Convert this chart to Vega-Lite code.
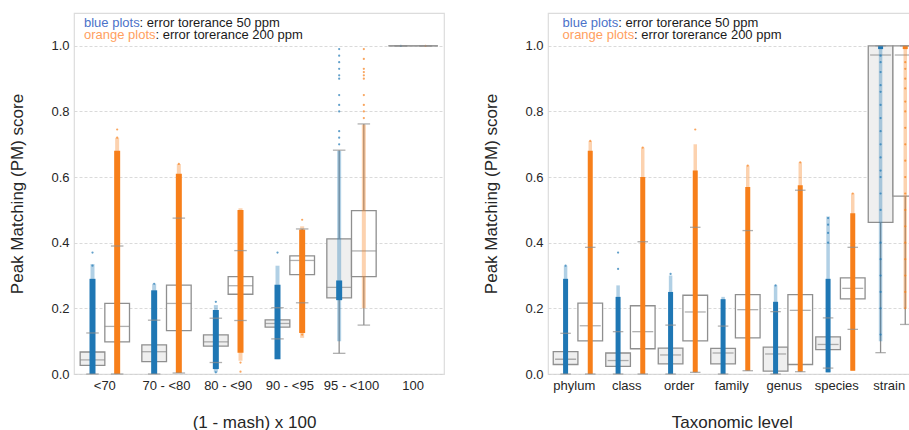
{
"$schema": "https://vega.github.io/schema/vega-lite/v6.json",
"padding": {"left": 8, "top": 12, "right": 0, "bottom": 0},
"background": "white",
"spacing": 37,
"config": {
  "font": "Liberation Sans",
  "view": {"stroke": "#dcdcdc", "strokeWidth": 1.2},
  "axis": {"labelFont": "Liberation Sans", "titleFont": "Liberation Sans", "labelFontSize": 13, "titleFontSize": 17, "titleFontWeight": "normal", "labelColor": "#262626", "titleColor": "#262626", "ticks": false, "domain": false}
},
"datasets": {
  "L": [
    {"cat":"<70","tol":"50","lo":0,"q1":0.026,"med":0.043,"q3":0.067,"hi":0.125,"dlo":0,"dhi":0.29,"slo":0,"shi":0.335},
    {"cat":"<70","tol":"200","lo":0,"q1":0.098,"med":0.145,"q3":0.215,"hi":0.39,"dlo":0,"dhi":0.68,"slo":0,"shi":0.72},
    {"cat":"70 - <80","tol":"50","lo":0,"q1":0.038,"med":0.068,"q3":0.089,"hi":0.164,"dlo":0,"dhi":0.255,"slo":0,"shi":0.275},
    {"cat":"70 - <80","tol":"200","lo":0.003,"q1":0.132,"med":0.215,"q3":0.271,"hi":0.475,"dlo":0.003,"dhi":0.61,"slo":0.003,"shi":0.64},
    {"cat":"80 - <90","tol":"50","lo":0.035,"q1":0.085,"med":0.098,"q3":0.119,"hi":0.17,"dlo":0.015,"dhi":0.195,"slo":0.005,"shi":0.21},
    {"cat":"80 - <90","tol":"200","lo":0.163,"q1":0.243,"med":0.269,"q3":0.297,"hi":0.376,"dlo":0.065,"dhi":0.5,"slo":0.04,"shi":0.505},
    {"cat":"90 - <95","tol":"50","lo":0.107,"q1":0.143,"med":0.154,"q3":0.165,"hi":0.202,"dlo":0.045,"dhi":0.272,"slo":0.045,"shi":0.33},
    {"cat":"90 - <95","tol":"200","lo":0.217,"q1":0.303,"med":0.346,"q3":0.36,"hi":0.442,"dlo":0.125,"dhi":0.44,"slo":0.11,"shi":0.45},
    {"cat":"95 - <100","tol":"50","lo":0.063,"q1":0.232,"med":0.264,"q3":0.412,"hi":0.682,"dlo":0.225,"dhi":0.285,"slo":0.1,"shi":0.68},
    {"cat":"95 - <100","tol":"200","lo":0.149,"q1":0.297,"med":0.375,"q3":0.498,"hi":0.762,"slo":0.2,"shi":0.76},
    {"cat":"100","tol":"50","lo":1,"q1":1,"med":1,"q3":1,"hi":1},
    {"cat":"100","tol":"200","lo":1,"q1":1,"med":1,"q3":1,"hi":1}
  ],
  "LP": [
    {"cat":"<70","tol":"50","v":0.33},{"cat":"<70","tol":"50","v":0.37},
    {"cat":"<70","tol":"200","v":0.72},{"cat":"<70","tol":"200","v":0.745},
    {"cat":"70 - <80","tol":"50","v":0.275},{"cat":"70 - <80","tol":"200","v":0.64},
    {"cat":"80 - <90","tol":"50","v":0.22},{"cat":"80 - <90","tol":"50","v":0.005},
    {"cat":"80 - <90","tol":"200","v":0.035},{"cat":"80 - <90","tol":"200","v":0.007},
    {"cat":"90 - <95","tol":"50","v":0.37},
    {"cat":"90 - <95","tol":"200","v":0.47},{"cat":"90 - <95","tol":"200","v":0.12},
    {"cat":"95 - <100","tol":"50","v":0.70},{"cat":"95 - <100","tol":"50","v":0.72},{"cat":"95 - <100","tol":"50","v":0.74},
    {"cat":"95 - <100","tol":"50","v":0.80},{"cat":"95 - <100","tol":"50","v":0.82},{"cat":"95 - <100","tol":"50","v":0.85},
    {"cat":"95 - <100","tol":"50","v":0.90},{"cat":"95 - <100","tol":"50","v":0.91},{"cat":"95 - <100","tol":"50","v":0.93},
    {"cat":"95 - <100","tol":"50","v":0.95},{"cat":"95 - <100","tol":"50","v":0.97},{"cat":"95 - <100","tol":"50","v":0.99},
    {"cat":"95 - <100","tol":"200","v":0.78},{"cat":"95 - <100","tol":"200","v":0.80},{"cat":"95 - <100","tol":"200","v":0.82},
    {"cat":"95 - <100","tol":"200","v":0.85},{"cat":"95 - <100","tol":"200","v":0.90},{"cat":"95 - <100","tol":"200","v":0.91},
    {"cat":"95 - <100","tol":"200","v":0.92},{"cat":"95 - <100","tol":"200","v":0.93},{"cat":"95 - <100","tol":"200","v":0.96},
    {"cat":"95 - <100","tol":"200","v":0.99},
    {"cat":"100","tol":"50","v":1},{"cat":"100","tol":"200","v":1}
  ],
  "R": [
    {"cat":"phylum","tol":"50","lo":0,"q1":0.029,"med":0.045,"q3":0.068,"hi":0.124,"dlo":0,"dhi":0.29,"slo":0,"shi":0.33},
    {"cat":"phylum","tol":"200","lo":0,"q1":0.101,"med":0.147,"q3":0.216,"hi":0.386,"dlo":0,"dhi":0.68,"slo":0,"shi":0.71},
    {"cat":"class","tol":"50","lo":0,"q1":0.023,"med":0.041,"q3":0.064,"hi":0.129,"dlo":0,"dhi":0.235,"slo":0,"shi":0.27},
    {"cat":"class","tol":"200","lo":0,"q1":0.077,"med":0.129,"q3":0.208,"hi":0.403,"dlo":0,"dhi":0.6,"slo":0,"shi":0.69},
    {"cat":"order","tol":"50","lo":0,"q1":0.031,"med":0.058,"q3":0.079,"hi":0.149,"dlo":0,"dhi":0.25,"slo":0,"shi":0.3},
    {"cat":"order","tol":"200","lo":0.005,"q1":0.101,"med":0.189,"q3":0.24,"hi":0.447,"dlo":0.005,"dhi":0.62,"slo":0.005,"shi":0.7},
    {"cat":"family","tol":"50","lo":0,"q1":0.031,"med":0.064,"q3":0.078,"hi":0.146,"dlo":0,"dhi":0.228,"slo":0,"shi":0.235},
    {"cat":"family","tol":"200","lo":0.01,"q1":0.11,"med":0.196,"q3":0.242,"hi":0.437,"dlo":0.01,"dhi":0.57,"slo":0.01,"shi":0.635},
    {"cat":"genus","tol":"50","lo":0,"q1":0.009,"med":0.061,"q3":0.082,"hi":0.19,"dlo":0,"dhi":0.22,"slo":0,"shi":0.27},
    {"cat":"genus","tol":"200","lo":0.007,"q1":0.029,"med":0.194,"q3":0.242,"hi":0.56,"dlo":0.007,"dhi":0.575,"slo":0.007,"shi":0.645},
    {"cat":"species","tol":"50","lo":0.018,"q1":0.074,"med":0.09,"q3":0.113,"hi":0.171,"dlo":0.005,"dhi":0.29,"slo":0.005,"shi":0.48},
    {"cat":"species","tol":"200","lo":0.136,"q1":0.229,"med":0.261,"q3":0.293,"hi":0.386,"dlo":0.01,"dhi":0.49,"slo":0.01,"shi":0.55},
    {"cat":"strain","tol":"50","lo":0.065,"q1":0.462,"med":0.972,"q3":1,"hi":1,"dlo":0.99,"dhi":1,"slo":0.1,"shi":1},
    {"cat":"strain","tol":"200","lo":0.151,"q1":0.542,"med":0.972,"q3":1,"hi":1,"dlo":0.99,"dhi":1,"slo":0.2,"shi":1}
  ],
  "RP": [
    {"cat":"phylum","tol":"50","v":0.33},{"cat":"phylum","tol":"200","v":0.71},
    {"cat":"class","tol":"50","v":0.32},{"cat":"class","tol":"50","v":0.37},{"cat":"class","tol":"200","v":0.69},
    {"cat":"order","tol":"50","v":0.305},{"cat":"order","tol":"200","v":0.745},
    {"cat":"family","tol":"200","v":0.635},
    {"cat":"genus","tol":"50","v":0.27},{"cat":"genus","tol":"200","v":0.645},
    {"cat":"species","tol":"50","v":0.4},{"cat":"species","tol":"50","v":0.43},{"cat":"species","tol":"50","v":0.455},{"cat":"species","tol":"50","v":0.475},
    {"cat":"species","tol":"200","v":0.55},
    {"cat":"strain","tol":"50","v":0.12},{"cat":"strain","tol":"50","v":0.2},{"cat":"strain","tol":"50","v":0.25},{"cat":"strain","tol":"50","v":0.3},
    {"cat":"strain","tol":"50","v":0.35},{"cat":"strain","tol":"50","v":0.4},{"cat":"strain","tol":"50","v":0.5},{"cat":"strain","tol":"50","v":0.55},
    {"cat":"strain","tol":"50","v":0.6},{"cat":"strain","tol":"50","v":0.62},{"cat":"strain","tol":"50","v":0.66},{"cat":"strain","tol":"50","v":0.7},
    {"cat":"strain","tol":"50","v":0.74},{"cat":"strain","tol":"50","v":0.78},{"cat":"strain","tol":"50","v":0.82},{"cat":"strain","tol":"50","v":0.86},
    {"cat":"strain","tol":"50","v":0.88},{"cat":"strain","tol":"50","v":0.92},{"cat":"strain","tol":"50","v":0.95},{"cat":"strain","tol":"50","v":0.97},
    {"cat":"strain","tol":"200","v":0.2},{"cat":"strain","tol":"200","v":0.25},{"cat":"strain","tol":"200","v":0.3},{"cat":"strain","tol":"200","v":0.35},
    {"cat":"strain","tol":"200","v":0.4},{"cat":"strain","tol":"200","v":0.45},{"cat":"strain","tol":"200","v":0.5},{"cat":"strain","tol":"200","v":0.55},
    {"cat":"strain","tol":"200","v":0.6},{"cat":"strain","tol":"200","v":0.65},{"cat":"strain","tol":"200","v":0.7},{"cat":"strain","tol":"200","v":0.75},
    {"cat":"strain","tol":"200","v":0.8},{"cat":"strain","tol":"200","v":0.83},{"cat":"strain","tol":"200","v":0.87},{"cat":"strain","tol":"200","v":0.9},
    {"cat":"strain","tol":"200","v":0.93},{"cat":"strain","tol":"200","v":0.95}
  ],
  "NLP": [
    {"cat":"<70","tol":"50","y":1.07,"t":"blue plots","k":"b"},
    {"cat":"<70","tol":"50","y":1.034,"t":"orange plots","k":"o"}
  ],
  "NLB": [{"cat":"<70","tol":"50","y":1.07,"t":": error torerance 50 ppm"}],
  "NLO": [{"cat":"<70","tol":"50","y":1.034,"t":": error torerance 200 ppm"}],
  "NRP": [
    {"cat":"phylum","tol":"50","y":1.07,"t":"blue plots","k":"b"},
    {"cat":"phylum","tol":"50","y":1.034,"t":"orange plots","k":"o"}
  ],
  "NRB": [{"cat":"phylum","tol":"50","y":1.07,"t":": error torerance 50 ppm"}],
  "NRO": [{"cat":"phylum","tol":"50","y":1.034,"t":": error torerance 200 ppm"}]
},
"hconcat": [
  {
    "width": 370, "height": 361,
    "data": {"name": "L"},
    "encoding": {
      "x": {"field":"cat","type":"nominal","scale":{"domain":["<70","70 - <80","80 - <90","90 - <95","95 - <100","100"],"paddingInner":0.2,"paddingOuter":0.1},
            "axis":{"title":"(1 - mash) x 100","labelAngle":0,"labelPadding":5,"titlePadding":22,"titleX":180}},
      "xOffset": {"field":"tol","type":"nominal","scale":{"domain":["50","200"],"paddingInner":0,"paddingOuter":0}}
    },
    "layer": [
      {"mark":{"type":"rule","color":"#8f8f8f","strokeWidth":1.3},
       "encoding":{"y":{"field":"lo","type":"quantitative","scale":{"domain":[0,1.1],"nice":false},
                        "axis":{"title":"Peak Matching (PM) score","values":[0,0.2,0.4,0.6,0.8,1],"format":".1f","grid":true,"gridDash":[3,2],"gridColor":"#d0d0d0","gridWidth":0.8,"labelPadding":5,"titlePadding":24}},
                   "y2":{"field":"hi"}}},
      {"mark":{"type":"bar","stroke":"#8f8f8f","strokeWidth":1.3},
       "encoding":{"y":{"field":"q1","type":"quantitative","scale":{"domain":[0,1.1],"nice":false},
                        "axis":{"title":"Peak Matching (PM) score","values":[0,0.2,0.4,0.6,0.8,1],"format":".1f","grid":true,"gridDash":[3,2],"gridColor":"#d0d0d0","gridWidth":0.8,"labelPadding":5,"titlePadding":24}},
                   "y2":{"field":"q3"},
                   "fill":{"condition":{"test":"datum.tol==='50'","value":"#efefef"},"value":"#ffffff"}}},
      {"mark":{"type":"tick","color":"#8f8f8f","thickness":1.3,"size":25,"orient":"horizontal"},
       "encoding":{"y":{"field":"med","type":"quantitative","scale":{"domain":[0,1.1],"nice":false},
                        "axis":{"title":"Peak Matching (PM) score","values":[0,0.2,0.4,0.6,0.8,1],"format":".1f","grid":true,"gridDash":[3,2],"gridColor":"#d0d0d0","gridWidth":0.8,"labelPadding":5,"titlePadding":24}}}},
      {"mark":{"type":"rule","strokeWidth":4,"opacity":0.35,"strokeCap":"butt"},
       "encoding":{"y":{"field":"slo","type":"quantitative","scale":{"domain":[0,1.1],"nice":false},
                        "axis":{"title":"Peak Matching (PM) score","values":[0,0.2,0.4,0.6,0.8,1],"format":".1f","grid":true,"gridDash":[3,2],"gridColor":"#d0d0d0","gridWidth":0.8,"labelPadding":5,"titlePadding":24}},
                   "y2":{"field":"shi"},
                   "color":{"condition":{"test":"datum.tol==='50'","value":"#1f77b4"},"value":"#f77f1a"}}},
      {"mark":{"type":"rule","strokeWidth":6,"strokeCap":"butt"},
       "encoding":{"y":{"field":"dlo","type":"quantitative","scale":{"domain":[0,1.1],"nice":false},
                        "axis":{"title":"Peak Matching (PM) score","values":[0,0.2,0.4,0.6,0.8,1],"format":".1f","grid":true,"gridDash":[3,2],"gridColor":"#d0d0d0","gridWidth":0.8,"labelPadding":5,"titlePadding":24}},
                   "y2":{"field":"dhi"},
                   "color":{"condition":{"test":"datum.tol==='50'","value":"#1f77b4"},"value":"#f77f1a"}}},
      {"data":{"name":"LP"},"mark":{"type":"point","filled":true,"size":5,"opacity":0.7},
       "encoding":{"y":{"field":"v","type":"quantitative","scale":{"domain":[0,1.1],"nice":false},
                        "axis":{"title":"Peak Matching (PM) score","values":[0,0.2,0.4,0.6,0.8,1],"format":".1f","grid":true,"gridDash":[3,2],"gridColor":"#d0d0d0","gridWidth":0.8,"labelPadding":5,"titlePadding":24}},
                   "color":{"condition":{"test":"datum.tol==='50'","value":"#1f77b4"},"value":"#f77f1a"}}},
      {"mark":{"type":"tick","color":"#8f8f8f","thickness":1.3,"size":12.5,"orient":"horizontal"},
       "encoding":{"y":{"field":"lo","type":"quantitative","scale":{"domain":[0,1.1],"nice":false},
                        "axis":{"title":"Peak Matching (PM) score","values":[0,0.2,0.4,0.6,0.8,1],"format":".1f","grid":true,"gridDash":[3,2],"gridColor":"#d0d0d0","gridWidth":0.8,"labelPadding":5,"titlePadding":24}}}},
      {"mark":{"type":"tick","color":"#8f8f8f","thickness":1.3,"size":12.5,"orient":"horizontal"},
       "encoding":{"y":{"field":"hi","type":"quantitative","scale":{"domain":[0,1.1],"nice":false},
                        "axis":{"title":"Peak Matching (PM) score","values":[0,0.2,0.4,0.6,0.8,1],"format":".1f","grid":true,"gridDash":[3,2],"gridColor":"#d0d0d0","gridWidth":0.8,"labelPadding":5,"titlePadding":24}}}},
      {"data":{"name":"NLP"},"mark":{"type":"text","align":"left","baseline":"middle","fontSize":13,"dx":-8.5},
       "encoding":{"y":{"field":"y","type":"quantitative","scale":{"domain":[0,1.1],"nice":false},
                        "axis":{"title":"Peak Matching (PM) score","values":[0,0.2,0.4,0.6,0.8,1],"format":".1f","grid":true,"gridDash":[3,2],"gridColor":"#d0d0d0","gridWidth":0.8,"labelPadding":5,"titlePadding":24}},
                   "text":{"field":"t"},
                   "color":{"condition":{"test":"datum.k==='b'","value":"#4b72c9"},"value":"#ffa060"}}},
      {"data":{"name":"NLB"},"mark":{"type":"text","align":"left","baseline":"middle","fontSize":13,"dx":47.1,"color":"#1a1a1a"},
       "encoding":{"y":{"field":"y","type":"quantitative","scale":{"domain":[0,1.1],"nice":false},
                        "axis":{"title":"Peak Matching (PM) score","values":[0,0.2,0.4,0.6,0.8,1],"format":".1f","grid":true,"gridDash":[3,2],"gridColor":"#d0d0d0","gridWidth":0.8,"labelPadding":5,"titlePadding":24}},
                   "text":{"field":"t"}}},
      {"data":{"name":"NLO"},"mark":{"type":"text","align":"left","baseline":"middle","fontSize":13,"dx":63,"color":"#1a1a1a"},
       "encoding":{"y":{"field":"y","type":"quantitative","scale":{"domain":[0,1.1],"nice":false},
                        "axis":{"title":"Peak Matching (PM) score","values":[0,0.2,0.4,0.6,0.8,1],"format":".1f","grid":true,"gridDash":[3,2],"gridColor":"#d0d0d0","gridWidth":0.8,"labelPadding":5,"titlePadding":24}},
                   "text":{"field":"t"}}}
    ]
  },
  {
    "width": 367.5, "height": 361,
    "data": {"name": "R"},
    "encoding": {
      "x": {"field":"cat","type":"nominal","scale":{"domain":["phylum","class","order","family","genus","species","strain"],"paddingInner":0.2,"paddingOuter":0.1},
            "axis":{"title":"Taxonomic level","labelAngle":0,"labelPadding":5,"titlePadding":22}},
      "xOffset": {"field":"tol","type":"nominal","scale":{"domain":["50","200"],"paddingInner":0,"paddingOuter":0}}
    },
    "layer": [
      {"mark":{"type":"rule","color":"#8f8f8f","strokeWidth":1.3},
       "encoding":{"y":{"field":"lo","type":"quantitative","scale":{"domain":[0,1.1],"nice":false},
                        "axis":{"title":"Peak Matching (PM) score","values":[0,0.2,0.4,0.6,0.8,1],"format":".1f","grid":true,"gridDash":[3,2],"gridColor":"#d0d0d0","gridWidth":0.8,"labelPadding":5,"titlePadding":24}},
                   "y2":{"field":"hi"}}},
      {"mark":{"type":"bar","stroke":"#8f8f8f","strokeWidth":1.3},
       "encoding":{"y":{"field":"q1","type":"quantitative","scale":{"domain":[0,1.1],"nice":false},
                        "axis":{"title":"Peak Matching (PM) score","values":[0,0.2,0.4,0.6,0.8,1],"format":".1f","grid":true,"gridDash":[3,2],"gridColor":"#d0d0d0","gridWidth":0.8,"labelPadding":5,"titlePadding":24}},
                   "y2":{"field":"q3"},
                   "fill":{"condition":{"test":"datum.tol==='50'","value":"#efefef"},"value":"#ffffff"}}},
      {"mark":{"type":"tick","color":"#8f8f8f","thickness":1.3,"size":21,"orient":"horizontal"},
       "encoding":{"y":{"field":"med","type":"quantitative","scale":{"domain":[0,1.1],"nice":false},
                        "axis":{"title":"Peak Matching (PM) score","values":[0,0.2,0.4,0.6,0.8,1],"format":".1f","grid":true,"gridDash":[3,2],"gridColor":"#d0d0d0","gridWidth":0.8,"labelPadding":5,"titlePadding":24}}}},
      {"mark":{"type":"rule","strokeWidth":3.5,"opacity":0.35,"strokeCap":"butt"},
       "encoding":{"y":{"field":"slo","type":"quantitative","scale":{"domain":[0,1.1],"nice":false},
                        "axis":{"title":"Peak Matching (PM) score","values":[0,0.2,0.4,0.6,0.8,1],"format":".1f","grid":true,"gridDash":[3,2],"gridColor":"#d0d0d0","gridWidth":0.8,"labelPadding":5,"titlePadding":24}},
                   "y2":{"field":"shi"},
                   "color":{"condition":{"test":"datum.tol==='50'","value":"#1f77b4"},"value":"#f77f1a"}}},
      {"mark":{"type":"rule","strokeWidth":5,"strokeCap":"butt"},
       "encoding":{"y":{"field":"dlo","type":"quantitative","scale":{"domain":[0,1.1],"nice":false},
                        "axis":{"title":"Peak Matching (PM) score","values":[0,0.2,0.4,0.6,0.8,1],"format":".1f","grid":true,"gridDash":[3,2],"gridColor":"#d0d0d0","gridWidth":0.8,"labelPadding":5,"titlePadding":24}},
                   "y2":{"field":"dhi"},
                   "color":{"condition":{"test":"datum.tol==='50'","value":"#1f77b4"},"value":"#f77f1a"}}},
      {"data":{"name":"RP"},"mark":{"type":"point","filled":true,"size":5,"opacity":0.7},
       "encoding":{"y":{"field":"v","type":"quantitative","scale":{"domain":[0,1.1],"nice":false},
                        "axis":{"title":"Peak Matching (PM) score","values":[0,0.2,0.4,0.6,0.8,1],"format":".1f","grid":true,"gridDash":[3,2],"gridColor":"#d0d0d0","gridWidth":0.8,"labelPadding":5,"titlePadding":24}},
                   "color":{"condition":{"test":"datum.tol==='50'","value":"#1f77b4"},"value":"#f77f1a"}}},
      {"mark":{"type":"tick","color":"#8f8f8f","thickness":1.3,"size":10.5,"orient":"horizontal"},
       "encoding":{"y":{"field":"lo","type":"quantitative","scale":{"domain":[0,1.1],"nice":false},
                        "axis":{"title":"Peak Matching (PM) score","values":[0,0.2,0.4,0.6,0.8,1],"format":".1f","grid":true,"gridDash":[3,2],"gridColor":"#d0d0d0","gridWidth":0.8,"labelPadding":5,"titlePadding":24}}}},
      {"mark":{"type":"tick","color":"#8f8f8f","thickness":1.3,"size":10.5,"orient":"horizontal"},
       "encoding":{"y":{"field":"hi","type":"quantitative","scale":{"domain":[0,1.1],"nice":false},
                        "axis":{"title":"Peak Matching (PM) score","values":[0,0.2,0.4,0.6,0.8,1],"format":".1f","grid":true,"gridDash":[3,2],"gridColor":"#d0d0d0","gridWidth":0.8,"labelPadding":5,"titlePadding":24}}}},
      {"data":{"name":"NRP"},"mark":{"type":"text","align":"left","baseline":"middle","fontSize":13,"dx":-3},
       "encoding":{"y":{"field":"y","type":"quantitative","scale":{"domain":[0,1.1],"nice":false},
                        "axis":{"title":"Peak Matching (PM) score","values":[0,0.2,0.4,0.6,0.8,1],"format":".1f","grid":true,"gridDash":[3,2],"gridColor":"#d0d0d0","gridWidth":0.8,"labelPadding":5,"titlePadding":24}},
                   "text":{"field":"t"},
                   "color":{"condition":{"test":"datum.k==='b'","value":"#4b72c9"},"value":"#ffa060"}}},
      {"data":{"name":"NRB"},"mark":{"type":"text","align":"left","baseline":"middle","fontSize":13,"dx":52.6,"color":"#1a1a1a"},
       "encoding":{"y":{"field":"y","type":"quantitative","scale":{"domain":[0,1.1],"nice":false},
                        "axis":{"title":"Peak Matching (PM) score","values":[0,0.2,0.4,0.6,0.8,1],"format":".1f","grid":true,"gridDash":[3,2],"gridColor":"#d0d0d0","gridWidth":0.8,"labelPadding":5,"titlePadding":24}},
                   "text":{"field":"t"}}},
      {"data":{"name":"NRO"},"mark":{"type":"text","align":"left","baseline":"middle","fontSize":13,"dx":68.5,"color":"#1a1a1a"},
       "encoding":{"y":{"field":"y","type":"quantitative","scale":{"domain":[0,1.1],"nice":false},
                        "axis":{"title":"Peak Matching (PM) score","values":[0,0.2,0.4,0.6,0.8,1],"format":".1f","grid":true,"gridDash":[3,2],"gridColor":"#d0d0d0","gridWidth":0.8,"labelPadding":5,"titlePadding":24}},
                   "text":{"field":"t"}}}
    ]
  }
]
}
